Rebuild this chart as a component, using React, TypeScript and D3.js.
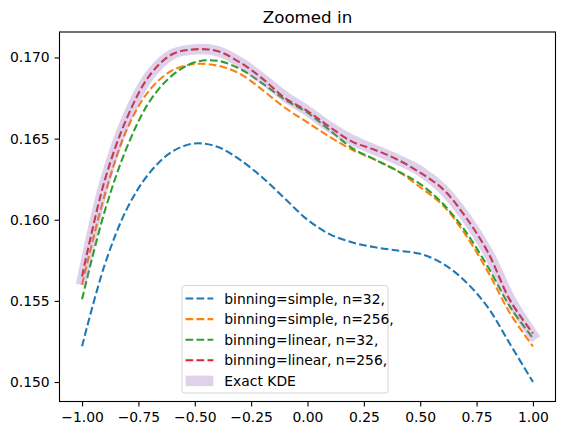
import React, { useEffect, useRef } from 'react';
import * as d3 from 'd3';

// Figure size and axes box (pixels)
const width = 565;
const height = 435;
const margin = {
  top: 32,
  right: 9.5,
  bottom: 33.5,
  left: 59.5,
};

// Grid positions the densities were evaluated on
const gridX = [-1.0, -0.9, -0.8, -0.7, -0.6, -0.5, -0.4, -0.3, -0.2, -0.1,
  0.0, 0.1, 0.2, 0.3, 0.4, 0.5, 0.6, 0.7, 0.8, 0.9, 1.0];

const simple32 = [0.1522, 0.1572, 0.1607, 0.1629, 0.1642, 0.1647, 0.1645, 0.1637, 0.1626, 0.1613,
  0.1600, 0.1591, 0.1586, 0.1583, 0.1581, 0.1579, 0.1573, 0.1562, 0.1546, 0.1523, 0.1500];
const simple256 = [0.1560, 0.1615, 0.1656, 0.1680, 0.1692, 0.1696, 0.1695, 0.1690, 0.1680, 0.1669,
  0.1660, 0.1651, 0.1643, 0.1637, 0.1630, 0.1620, 0.1609, 0.1591, 0.1568, 0.1542, 0.1522];
const linear32 = [0.1551, 0.1605, 0.1645, 0.1673, 0.1689, 0.1697, 0.1698, 0.1693, 0.1684, 0.1674,
  0.1666, 0.1655, 0.1644, 0.1637, 0.1630, 0.1622, 0.1610, 0.1593, 0.1571, 0.1546, 0.1527];
const linear256 = [0.1565, 0.1624, 0.1663, 0.1689, 0.1702, 0.1705, 0.1704, 0.1697, 0.1687, 0.1675,
  0.1667, 0.1657, 0.1648, 0.1643, 0.1637, 0.1629, 0.1619, 0.1602, 0.1580, 0.1550, 0.1530];
const exactKde = [0.1563, 0.1623, 0.1663, 0.1689, 0.1702, 0.1705, 0.1704, 0.1697, 0.1687, 0.1676,
  0.1667, 0.1657, 0.1649, 0.1643, 0.1637, 0.1630, 0.1619, 0.1602, 0.1580, 0.1551, 0.1529];

const seriesLabels = [
  'binning=simple, n=32,',
  'binning=simple, n=256,',
  'binning=linear, n=32,',
  'binning=linear, n=256,',
];
const seriesValues = [simple32, simple256, linear32, linear256];
const seriesColors = ['#1f77b4', '#ff7f0e', '#2ca02c', '#d62728'];
const exactLabel = 'Exact KDE';

const xTicks = [-1.0, -0.75, -0.5, -0.25, 0.0, 0.25, 0.5, 0.75, 1.0];
const yTicks = [0.150, 0.155, 0.160, 0.165, 0.170];

const font = '"DejaVu Sans", sans-serif';
const tickFont = 13.9;
const dash = '7.7,3.3';

const App: React.FC = () => {
  const svgRef = useRef<SVGSVGElement>(null);

  useEffect(() => {
    const svg = d3.select(svgRef.current);
    svg.selectAll('*').remove();

    const chartWidth = width - margin.left - margin.right;
    const chartHeight = height - margin.top - margin.bottom;

    const x = d3.scaleLinear().domain([-1.1, 1.1]).range([0, chartWidth]);
    const y = d3.scaleLinear().domain([0.1488, 0.17157]).range([chartHeight, 0]);

    const line = d3.line<number>()
      .x((_, i) => x(gridX[i]))
      .y((d) => y(d))
      .curve(d3.curveCatmullRom.alpha(0.5));

    svg.append('rect')
      .attr('width', width)
      .attr('height', height)
      .attr('fill', 'white');

    const g = svg.append('g')
      .attr('transform', `translate(${margin.left},${margin.top})`);

    // Dashed binned estimates
    seriesValues.forEach((values, i) => {
      g.append('path')
        .datum(values)
        .attr('d', line)
        .attr('fill', 'none')
        .attr('stroke', seriesColors[i])
        .attr('stroke-width', 2.08)
        .attr('stroke-dasharray', dash);
    });

    // Exact estimate as a wide translucent band on top
    g.append('path')
      .datum(exactKde)
      .attr('d', line)
      .attr('fill', 'none')
      .attr('stroke', '#9467bd')
      .attr('stroke-opacity', 0.3)
      .attr('stroke-width', 10.5)
      .attr('stroke-linecap', 'square');

    // Axes
    const xAxis = g.append('g')
      .attr('transform', `translate(0,${chartHeight})`)
      .call(d3.axisBottom(x).tickValues(xTicks).tickFormat(d3.format('.2f'))
        .tickSize(4.9).tickPadding(4.9));
    const yAxis = g.append('g')
      .call(d3.axisLeft(y).tickValues(yTicks).tickFormat(d3.format('.3f'))
        .tickSize(4.9).tickPadding(4.9));

    [xAxis, yAxis].forEach((ax) => {
      ax.select('.domain').remove();
      ax.selectAll('line').attr('stroke', 'black').attr('stroke-width', 1.1);
      ax.selectAll('text')
        .attr('font-family', font)
        .attr('font-size', tickFont)
        .attr('fill', 'black');
    });
    xAxis.selectAll('text').attr('dy', '0.76em');

    // Axes frame
    g.append('rect')
      .attr('width', chartWidth)
      .attr('height', chartHeight)
      .attr('fill', 'none')
      .attr('stroke', 'black')
      .attr('stroke-width', 1.1);

    // Title
    svg.append('text')
      .attr('x', margin.left + chartWidth / 2)
      .attr('y', margin.top - 8.6)
      .attr('text-anchor', 'middle')
      .attr('font-family', font)
      .attr('font-size', 16.7)
      .text('Zoomed in');

    // Legend
    const legend = svg.append('g').attr('transform', 'translate(182,285.5)');
    legend.append('rect')
      .attr('width', 206)
      .attr('height', 107.5)
      .attr('rx', 2.8)
      .attr('fill', 'white')
      .attr('fill-opacity', 0.8)
      .attr('stroke', '#d6d6d6')
      .attr('stroke-width', 1);

    const rowY = (i: number) => 13 + i * 20.6;
    const labels = [...seriesLabels, exactLabel];
    labels.forEach((label, i) => {
      const ly = rowY(i);
      const handle = legend.append('line')
        .attr('x1', 3.5)
        .attr('x2', 31.3)
        .attr('y1', ly)
        .attr('y2', ly);
      if (i < seriesColors.length) {
        handle
          .attr('stroke', seriesColors[i])
          .attr('stroke-width', 2.08)
          .attr('stroke-dasharray', dash);
      } else {
        handle
          .attr('stroke', '#9467bd')
          .attr('stroke-opacity', 0.3)
          .attr('stroke-width', 10.5);
      }
      legend.append('text')
        .attr('x', 42.3)
        .attr('y', ly + 5)
        .attr('font-family', font)
        .attr('font-size', tickFont)
        .text(label);
    });
  }, []);

  return (
    <svg
      ref={svgRef}
      width={width}
      height={height}
      style={{ position: 'absolute', left: 0, top: 0 }}
    />
  );
};

export default App;
